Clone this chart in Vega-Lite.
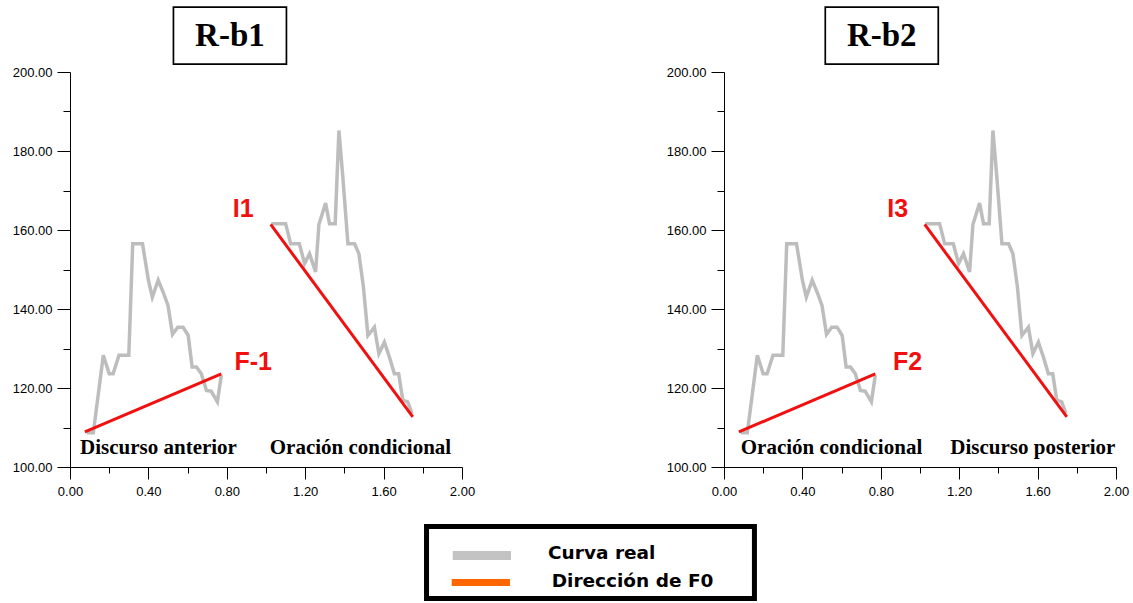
{
  "$schema": "https://vega.github.io/schema/vega-lite/v6.json",
  "background": "white",
  "padding": {"left": 12, "top": 3, "right": 3, "bottom": 110},
  "config": {
    "view": {"stroke": null},
    "axis": {
      "grid": false,
      "domainColor": "black",
      "domainWidth": 1,
      "tickColor": "black",
      "tickWidth": 1,
      "labelColor": "black",
      "labelFont": "Liberation Sans",
      "labelFontSize": 13,
      "labelOverlap": false,
      "labelFlush": false
    }
  },
  "datasets": {
    "curva": [
      {"seg": "1", "t": 0.085, "f0": 108.7},
      {"seg": "1", "t": 0.119, "f0": 108.7},
      {"seg": "1", "t": 0.17, "f0": 128.3},
      {"seg": "1", "t": 0.2, "f0": 123.6},
      {"seg": "1", "t": 0.22, "f0": 123.6},
      {"seg": "1", "t": 0.25, "f0": 128.3},
      {"seg": "1", "t": 0.3, "f0": 128.3},
      {"seg": "1", "t": 0.32, "f0": 156.5},
      {"seg": "1", "t": 0.37, "f0": 156.5},
      {"seg": "1", "t": 0.4, "f0": 147.3},
      {"seg": "1", "t": 0.42, "f0": 143.0},
      {"seg": "1", "t": 0.45, "f0": 147.3},
      {"seg": "1", "t": 0.475, "f0": 144.3},
      {"seg": "1", "t": 0.5, "f0": 140.9},
      {"seg": "1", "t": 0.523, "f0": 133.6},
      {"seg": "1", "t": 0.55, "f0": 135.4},
      {"seg": "1", "t": 0.577, "f0": 135.4},
      {"seg": "1", "t": 0.603, "f0": 133.3},
      {"seg": "1", "t": 0.623, "f0": 125.3},
      {"seg": "1", "t": 0.645, "f0": 125.3},
      {"seg": "1", "t": 0.67, "f0": 123.6},
      {"seg": "1", "t": 0.696, "f0": 119.4},
      {"seg": "1", "t": 0.72, "f0": 119.2},
      {"seg": "1", "t": 0.752, "f0": 116.5},
      {"seg": "1", "t": 0.772, "f0": 123.2},
      {"seg": "2", "t": 1.027, "f0": 161.6},
      {"seg": "2", "t": 1.1, "f0": 161.6},
      {"seg": "2", "t": 1.126, "f0": 156.5},
      {"seg": "2", "t": 1.17, "f0": 156.5},
      {"seg": "2", "t": 1.197, "f0": 151.5},
      {"seg": "2", "t": 1.222, "f0": 154.0},
      {"seg": "2", "t": 1.253, "f0": 149.4},
      {"seg": "2", "t": 1.27, "f0": 161.4},
      {"seg": "2", "t": 1.304, "f0": 166.8},
      {"seg": "2", "t": 1.324, "f0": 161.6},
      {"seg": "2", "t": 1.353, "f0": 161.6},
      {"seg": "2", "t": 1.372, "f0": 185.2},
      {"seg": "2", "t": 1.392, "f0": 173.4},
      {"seg": "2", "t": 1.418, "f0": 156.5},
      {"seg": "2", "t": 1.452, "f0": 156.5},
      {"seg": "2", "t": 1.474, "f0": 154.0},
      {"seg": "2", "t": 1.497, "f0": 145.6},
      {"seg": "2", "t": 1.52, "f0": 133.3},
      {"seg": "2", "t": 1.553, "f0": 135.4},
      {"seg": "2", "t": 1.576, "f0": 128.7},
      {"seg": "2", "t": 1.604, "f0": 131.6},
      {"seg": "2", "t": 1.63, "f0": 127.8},
      {"seg": "2", "t": 1.655, "f0": 123.6},
      {"seg": "2", "t": 1.677, "f0": 123.6},
      {"seg": "2", "t": 1.698, "f0": 116.9},
      {"seg": "2", "t": 1.723, "f0": 116.5},
      {"seg": "2", "t": 1.745, "f0": 113.5}
    ],
    "direccion": [
      {"seg": "A", "t": 0.076, "f0": 108.9},
      {"seg": "A", "t": 0.772, "f0": 123.6},
      {"seg": "B", "t": 1.024, "f0": 161.4},
      {"seg": "B", "t": 1.749, "f0": 112.7}
    ],
    "titulos": [
      {"panel": "R-b1", "t": 0.816, "f0": 209.2},
      {"panel": "R-b2", "t": 0.805, "f0": 209.2}
    ],
    "etiquetas": [
      {"panel": "R-b1", "tipo": "punto", "texto": "I1", "t": 0.884, "f0": 165.3},
      {"panel": "R-b1", "tipo": "punto", "texto": "F-1", "t": 0.935, "f0": 126.5},
      {"panel": "R-b1", "tipo": "tramo", "texto": "Discurso anterior", "t": 0.4515, "f0": 104.8},
      {"panel": "R-b1", "tipo": "tramo", "texto": "Oración condicional", "t": 1.482, "f0": 104.8},
      {"panel": "R-b2", "tipo": "punto", "texto": "I3", "t": 0.886, "f0": 165.2},
      {"panel": "R-b2", "tipo": "punto", "texto": "F2", "t": 0.937, "f0": 126.5},
      {"panel": "R-b2", "tipo": "tramo", "texto": "Oración condicional", "t": 0.5485, "f0": 104.8},
      {"panel": "R-b2", "tipo": "tramo", "texto": "Discurso posterior", "t": 1.576, "f0": 104.8}
    ],
    "leyenda": [
      {"serie": "Curva real", "t": 2.439, "f0": 76.71},
      {"serie": "Dirección de F0", "t": 2.4577, "f0": 69.70}
    ]
  },
  "hconcat": [
    {
      "width": 392,
      "height": 395,
      "encoding": {
        "x": {
          "field": "t", "type": "quantitative",
          "scale": {"domain": [0, 2], "nice": false, "zero": false},
          "axis": {
            "title": null,
            "values": [0, 0.2, 0.4, 0.6, 0.8, 1.0, 1.2, 1.4, 1.6, 1.8, 2.0],
            "labelExpr": "round(datum.value*10) % 4 === 0 ? format(datum.value, '.2f') : ''",
            "tickSize": {"condition": {"test": "round(datum.value*10) % 4 === 0", "value": 12}, "value": 6},
            "labelPadding": 6
          }
        },
        "y": {
          "field": "f0", "type": "quantitative",
          "scale": {"domain": [100, 200], "nice": false, "zero": false},
          "axis": {
            "title": null,
            "values": [100, 110, 120, 130, 140, 150, 160, 170, 180, 190, 200],
            "labelExpr": "datum.value % 20 === 0 ? format(datum.value, '.2f') : ''",
            "tickSize": {"condition": {"test": "datum.value % 20 === 0", "value": 13}, "value": 7},
            "labelPadding": 5
          }
        }
      },
      "layer": [
        {
          "data": {"name": "curva"},
          "mark": {"type": "line", "stroke": "#BDBDBD", "strokeWidth": 3.5, "strokeJoin": "miter"},
          "encoding": {"detail": {"field": "seg"}}
        },
        {
          "data": {"name": "direccion"},
          "mark": {"type": "line", "stroke": "#F01010", "strokeWidth": 3},
          "encoding": {"detail": {"field": "seg"}}
        },
        {
          "data": {"name": "titulos"},
          "transform": [{"filter": "datum.panel === 'R-b1'"}],
          "mark": {"type": "point", "shape": "M-1,-0.504H1V0.504H-1Z", "size": 12769, "filled": true, "fill": "white", "stroke": "black", "strokeWidth": 1.7, "opacity": 1}
        },
        {
          "data": {"name": "titulos"},
          "transform": [{"filter": "datum.panel === 'R-b1'"}],
          "mark": {"type": "text", "font": "Liberation Serif", "fontWeight": "bold", "fontSize": 33, "baseline": "middle", "align": "center", "color": "black"},
          "encoding": {"text": {"field": "panel"}}
        },
        {
          "data": {"name": "etiquetas"},
          "transform": [{"filter": "datum.panel === 'R-b1' && datum.tipo === 'punto'"}],
          "mark": {"type": "text", "font": "Liberation Sans", "fontWeight": "bold", "fontSize": 25, "baseline": "middle", "align": "center", "color": "#F01010"},
          "encoding": {"text": {"field": "texto"}}
        },
        {
          "data": {"name": "etiquetas"},
          "transform": [{"filter": "datum.panel === 'R-b1' && datum.tipo === 'tramo'"}],
          "mark": {"type": "text", "font": "Liberation Serif", "fontWeight": "bold", "fontSize": 21, "baseline": "middle", "align": "center", "color": "black"},
          "encoding": {"text": {"field": "texto"}}
        },
        {
          "data": {"name": "leyenda"},
          "transform": [{"filter": "datum.serie === 'Curva real'"}],
          "mark": {"type": "rect", "fill": "white", "stroke": "black", "strokeWidth": 5},
          "encoding": {
            "x": {"datum": 1.819, "type": "quantitative"},
            "x2": {"datum": 3.492},
            "y": {"datum": 84.94, "type": "quantitative"},
            "y2": {"datum": 66.71}
          }
        },
        {
          "data": {"name": "leyenda"},
          "transform": [{"filter": "datum.serie === 'Curva real'"}],
          "mark": {"type": "rule", "stroke": "#C3C3C3", "strokeWidth": 9},
          "encoding": {
            "x": {"datum": 1.9526, "type": "quantitative"},
            "x2": {"datum": 2.25},
            "y": {"datum": 77.59, "type": "quantitative"}
          }
        },
        {
          "data": {"name": "leyenda"},
          "transform": [{"filter": "datum.serie === 'Dirección de F0'"}],
          "mark": {"type": "rule", "stroke": "#FF6600", "strokeWidth": 7},
          "encoding": {
            "x": {"datum": 1.9474, "type": "quantitative"},
            "x2": {"datum": 2.2449},
            "y": {"datum": 70.76, "type": "quantitative"}
          }
        },
        {
          "data": {"name": "leyenda"},
          "mark": {"type": "text", "align": "left", "baseline": "alphabetic", "font": "DejaVu Sans", "fontWeight": "bold", "fontSize": 18.5, "color": "black"},
          "encoding": {
            "text": {"field": "serie"}
          }
        }
      ]
    },
    {
      "width": 392,
      "height": 395,
      "encoding": {
        "x": {
          "field": "t", "type": "quantitative",
          "scale": {"domain": [0, 2], "nice": false, "zero": false},
          "axis": {
            "title": null,
            "values": [0, 0.2, 0.4, 0.6, 0.8, 1.0, 1.2, 1.4, 1.6, 1.8, 2.0],
            "labelExpr": "round(datum.value*10) % 4 === 0 ? format(datum.value, '.2f') : ''",
            "tickSize": {"condition": {"test": "round(datum.value*10) % 4 === 0", "value": 12}, "value": 6},
            "labelPadding": 6
          }
        },
        "y": {
          "field": "f0", "type": "quantitative",
          "scale": {"domain": [100, 200], "nice": false, "zero": false},
          "axis": {
            "title": null,
            "values": [100, 110, 120, 130, 140, 150, 160, 170, 180, 190, 200],
            "labelExpr": "datum.value % 20 === 0 ? format(datum.value, '.2f') : ''",
            "tickSize": {"condition": {"test": "datum.value % 20 === 0", "value": 13}, "value": 7},
            "labelPadding": 5
          }
        }
      },
      "layer": [
        {
          "data": {"name": "curva"},
          "mark": {"type": "line", "stroke": "#BDBDBD", "strokeWidth": 3.5, "strokeJoin": "miter"},
          "encoding": {"detail": {"field": "seg"}}
        },
        {
          "data": {"name": "direccion"},
          "mark": {"type": "line", "stroke": "#F01010", "strokeWidth": 3},
          "encoding": {"detail": {"field": "seg"}}
        },
        {
          "data": {"name": "titulos"},
          "transform": [{"filter": "datum.panel === 'R-b2'"}],
          "mark": {"type": "point", "shape": "M-1,-0.504H1V0.504H-1Z", "size": 12769, "filled": true, "fill": "white", "stroke": "black", "strokeWidth": 1.7, "opacity": 1}
        },
        {
          "data": {"name": "titulos"},
          "transform": [{"filter": "datum.panel === 'R-b2'"}],
          "mark": {"type": "text", "font": "Liberation Serif", "fontWeight": "bold", "fontSize": 33, "baseline": "middle", "align": "center", "color": "black"},
          "encoding": {"text": {"field": "panel"}}
        },
        {
          "data": {"name": "etiquetas"},
          "transform": [{"filter": "datum.panel === 'R-b2' && datum.tipo === 'punto'"}],
          "mark": {"type": "text", "font": "Liberation Sans", "fontWeight": "bold", "fontSize": 25, "baseline": "middle", "align": "center", "color": "#F01010"},
          "encoding": {"text": {"field": "texto"}}
        },
        {
          "data": {"name": "etiquetas"},
          "transform": [{"filter": "datum.panel === 'R-b2' && datum.tipo === 'tramo'"}],
          "mark": {"type": "text", "font": "Liberation Serif", "fontWeight": "bold", "fontSize": 21, "baseline": "middle", "align": "center", "color": "black"},
          "encoding": {"text": {"field": "texto"}}
        }
      ]
    }
  ],
  "spacing": 262,
  "bounds": "flush"
}
